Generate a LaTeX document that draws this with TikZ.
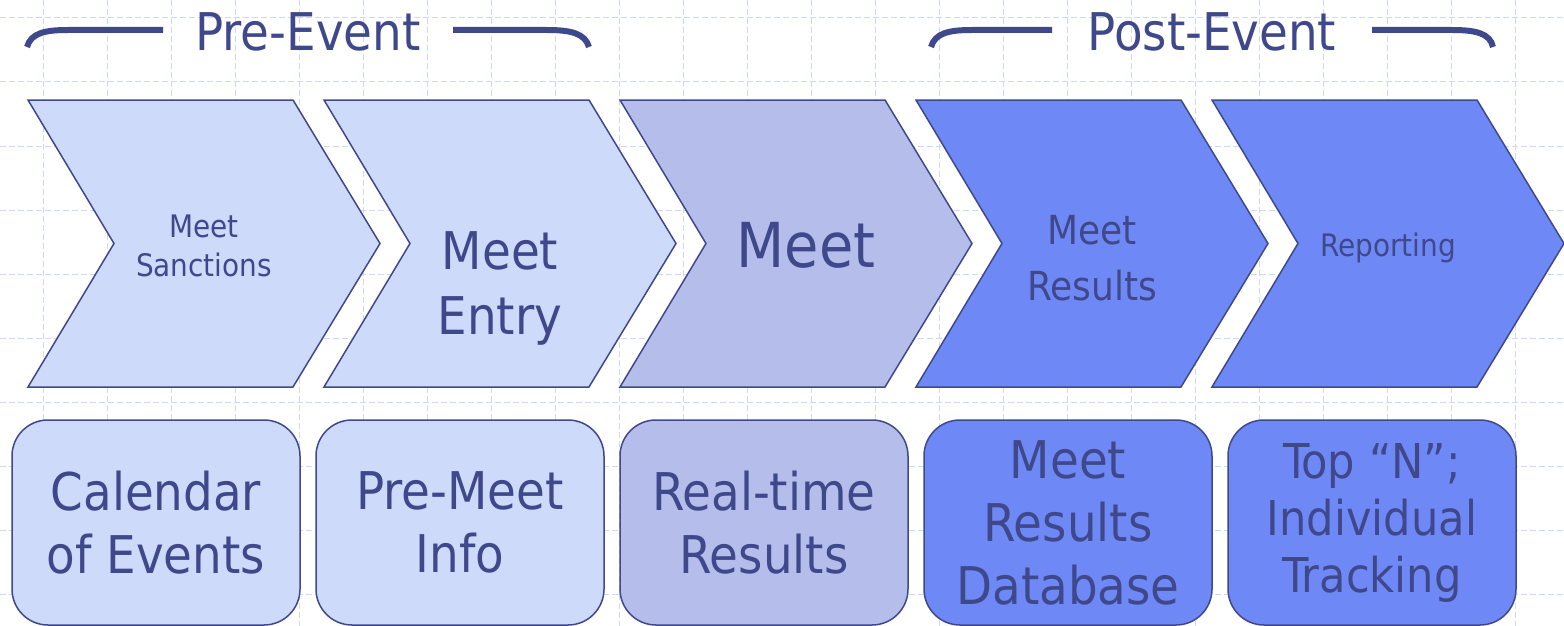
\documentclass[tikz,border=0pt]{standalone}
\usepackage{fontspec}
\setmainfont{DejaVu Sans Condensed}
\definecolor{navy}{RGB}{64,72,140}
\definecolor{paleblue}{RGB}{205,218,250}
\definecolor{midblue}{RGB}{181,190,235}
\definecolor{brightblue}{RGB}{110,137,245}
\definecolor{gridblue}{RGB}{205,217,248}
\begin{document}
\begin{tikzpicture}[x=1pt,y=-1pt]
      \tikzstyle{chev} = [draw=navy, line width=1.5pt, line join=miter]
      \tikzstyle{card} = [draw=navy, line width=1.5pt, rounded corners=36pt, minimum width=288pt, minimum height=205pt, text=navy, align=center, inner sep=0pt]
      \tikzstyle{ctext} = [text=navy, align=center, inner sep=0pt]
      \tikzstyle{brace} = [draw=navy, line width=6pt]
      \useasboundingbox (0,0) rectangle (1564,626);

      % faint background grid
      \foreach \gx in {43,107,...,1564} \draw[gridblue, dash pattern=on 6pt off 3pt, line width=1pt] (\gx,0) -- (\gx,626);
      \foreach \gy in {18,82,...,626} \draw[gridblue, dash pattern=on 6pt off 3pt, line width=1pt] (0,\gy) -- (1564,\gy);

      % phase brackets
      \node[ctext, font=\fontsize{52}{60}\selectfont] (pre) at (308,32) {Pre-Event};
      \draw[brace] (27,47) .. controls (31,33) and (45,30) .. (68,30) -- (163,30);
      \draw[brace] (453,30) -- (547,30) .. controls (570,30) and (585,33) .. (589,47);
      \node[ctext, font=\fontsize{52}{60}\selectfont] (post) at (1212,32) {Post-Event};
      \draw[brace] (931,47) .. controls (935,33) and (949,30) .. (972,30) -- (1052,30);
      \draw[brace] (1372,30) -- (1452,30) .. controls (1475,30) and (1490,33) .. (1493,47);

      % process chevrons
      \draw[chev, fill=paleblue] (28,100) -- ++(265,0) -- ++(87,143.5) -- ++(-87,143.5) -- ++(-265,0) -- ++(86,-143.5) -- cycle;
      \draw[chev, fill=paleblue] (324,100) -- ++(265,0) -- ++(87,143.5) -- ++(-87,143.5) -- ++(-265,0) -- ++(86,-143.5) -- cycle;
      \draw[chev, fill=midblue] (620,100) -- ++(265,0) -- ++(87,143.5) -- ++(-87,143.5) -- ++(-265,0) -- ++(86,-143.5) -- cycle;
      \draw[chev, fill=brightblue] (916,100) -- ++(265,0) -- ++(87,143.5) -- ++(-87,143.5) -- ++(-265,0) -- ++(86,-143.5) -- cycle;
      \draw[chev, fill=brightblue] (1212,100) -- ++(265,0) -- ++(87,143.5) -- ++(-87,143.5) -- ++(-265,0) -- ++(86,-143.5) -- cycle;

      \node[ctext, font=\fontsize{31}{39}\selectfont] (sanct) at (204,246) {Meet\\Sanctions};
      \node[ctext, font=\fontsize{52}{65}\selectfont] (entry) at (500,288) {Meet\\Entry};
      \node[ctext, font=\fontsize{62}{70}\selectfont] (meet) at (806,245) {Meet};
      \node[ctext, font=\fontsize{40}{56}\selectfont] (results) at (1092,258) {Meet\\Results};
      \node[ctext, font=\fontsize{31}{39}\selectfont] (report) at (1388,248) {Reporting};

      % deliverables
      \node[card, fill=paleblue, font=\fontsize{52}{63}\selectfont] (cal) at (156,522.5) {Calendar\\of Events};
      \node[card, fill=paleblue, font=\fontsize{52}{63}\selectfont] (info) at (460,522.5) {Pre-Meet\\Info};
      \node[card, fill=midblue, font=\fontsize{52}{63}\selectfont] (live) at (764,522.5) {Real-time\\Results};
      \node[card, fill=brightblue, font=\fontsize{52}{63}\selectfont] (db) at (1068,522.5) {Meet\\Results\\Database};
      \node[card, fill=brightblue, font=\fontsize{48}{57}\selectfont] (track) at (1372,522.5) {Top “N”;\\Individual\\Tracking};
\end{tikzpicture}
\end{document}
